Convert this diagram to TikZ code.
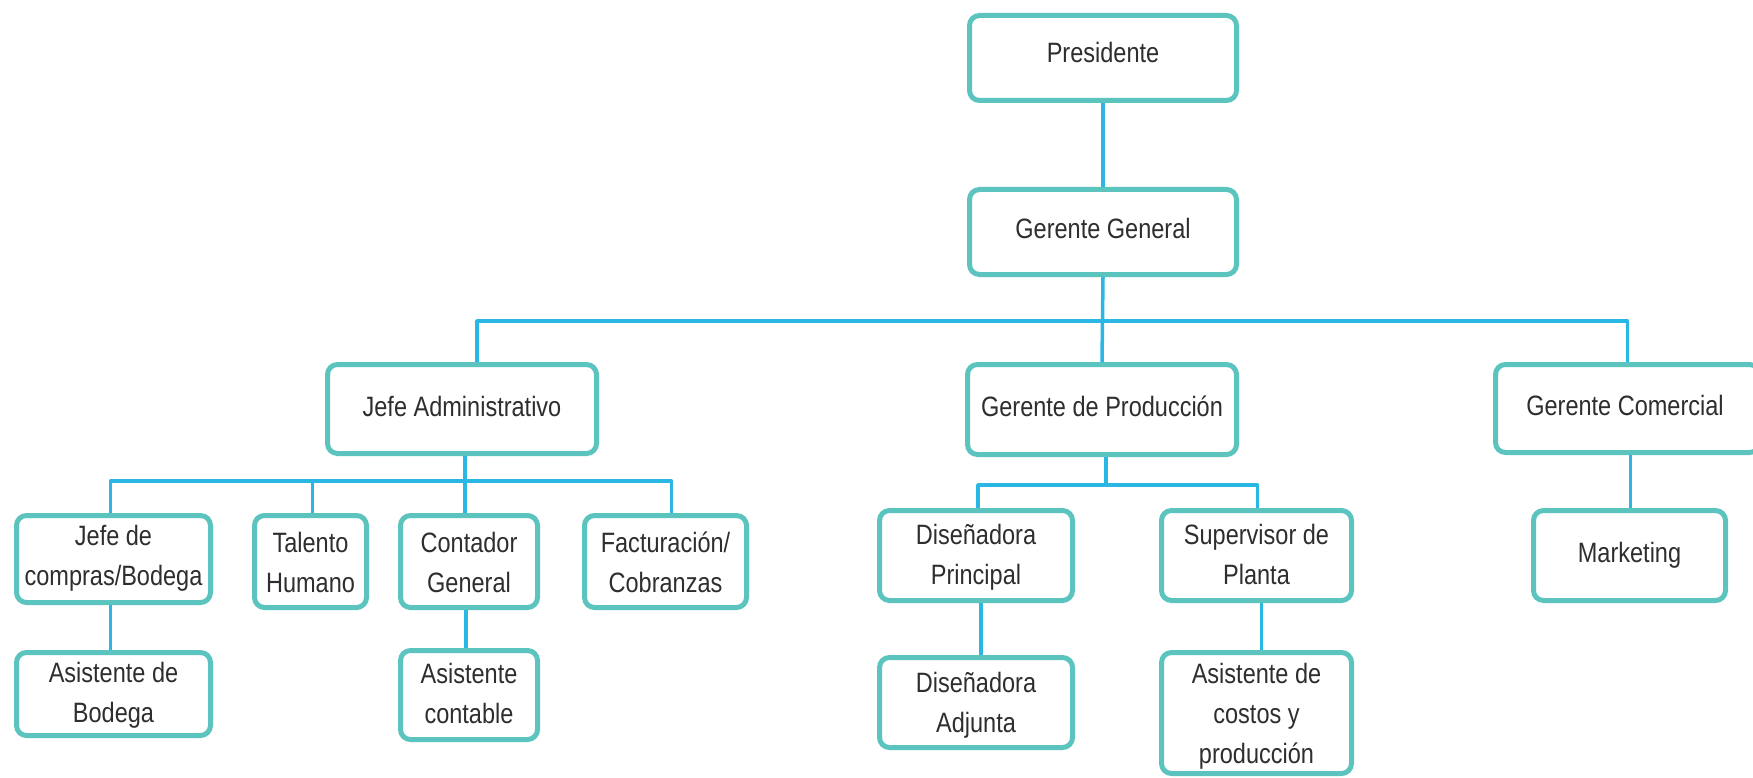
\documentclass[tikz,border=0pt]{standalone}
\usepackage{fontspec}
\setmainfont{Liberation Sans}[FakeStretch=0.84]
\definecolor{boxc}{HTML}{5BC4BF}
\definecolor{linec}{HTML}{2BB7E4}
\definecolor{txtc}{HTML}{2E2E2E}
\newcommand\ls{\rule[-8pt]{0pt}{34pt}}
\tikzset{
  box/.style={draw=boxc, line width=5pt, rounded corners=10pt, fill=white, inner sep=0pt},
  conn/.style={draw=linec, line width=3.5pt, line join=round},
  txt/.style={text=txtc, align=center, inner sep=0pt, font=\fontsize{28}{40}\selectfont},
}
\newcommand\bx[5]{\node[box, minimum width={#4-#2-5}, minimum height={#5-#3-5}] (#1) at ({(#2+#4)/2},{(#3+#5)/2}) {};}
\begin{document}
\begin{tikzpicture}[x=1pt,y=-1pt]
\useasboundingbox (0,0) rectangle (1753,778);
\fill[white] (0,0) rectangle (1753,778);
\coordinate (bus1) at (0,321);
\coordinate (bus2) at (0,481);
\coordinate (bus3) at (0,485);
% boxes
\bx{pres}{967}{13}{1239}{103}
\bx{gg}{967}{187}{1239}{277}
\bx{ja}{325}{362}{599}{456}
\bx{gp}{965}{362}{1239}{457}
\bx{gc}{1493}{362}{1762}{455}
\bx{jcb}{14}{513}{213}{605}
\bx{th}{252}{513}{369}{610}
\bx{cg}{398}{513}{540}{610}
\bx{fc}{582}{513}{749}{610}
\bx{ab}{14}{650}{213}{738}
\bx{ac}{398}{648}{540}{742}
\bx{dp}{877}{508}{1075}{603}
\bx{sp}{1159}{508}{1354}{603}
\bx{da}{877}{655}{1075}{750}
\bx{acp}{1159}{650}{1354}{776}
\bx{mk}{1531}{508}{1728}{603}
% connectors
\draw[conn] (pres.south) -- (gg.north);
\draw[conn] (gg.south) -- (gp.north);
\draw[conn] ([xshift=15]ja.north) |- (gc.north |- bus1) -- (gc.north);
\draw[conn] ([xshift=3]ja.south) -- ([xshift=3]ja.south |- cg.north);
\draw[conn] ([xshift=-3]jcb.north) |- ([xshift=6]fc.north |- bus2) -- ([xshift=6]fc.north);
\draw[conn] ([xshift=2]th.north) -- ([xshift=2]th.north |- bus2);
\draw[conn] ([xshift=-3]jcb.south) -- ([xshift=-3]ab.north);
\draw[conn] ([xshift=-3]cg.south) -- ([xshift=-3]ac.north);
\draw[conn] ([xshift=4]gp.south) -- ([xshift=4]gp.south |- bus3);
\draw[conn] ([xshift=2]dp.north) |- ([xshift=1]sp.north |- bus3) -- ([xshift=1]sp.north);
\draw[conn] ([xshift=5]dp.south) -- ([xshift=5]da.north);
\draw[conn] ([xshift=5]sp.south) -- ([xshift=5]acp.north);
\draw[conn] ([xshift=3]gc.south) -- ([xshift=3]gc.south |- mk.north);
% texts
\node[txt] (tpres) at (1103,54) {\ls Presidente};
\node[txt] (tgg) at (1103,229) {\ls Gerente General};
\node[txt] (tja) at (462,407) {\ls Jefe Administrativo};
\node[txt] (tgp) at (1102,407) {\ls Gerente de Producción};
\node[txt] (tgc) at (1625,406) {\ls Gerente Comercial};
\node[txt] (tjcb) at (113.5,556) {\ls Jefe de\\\ls compras/Bodega};
\node[txt] (tth) at (310.5,563) {\ls Talento\\\ls Humano};
\node[txt] (tcg) at (469,563) {\ls Contador\\\ls General};
\node[txt] (tfc) at (665.5,563) {\ls Facturación/\\\ls Cobranzas};
\node[txt] (tab) at (113.5,693) {\ls Asistente de\\\ls Bodega};
\node[txt] (tac) at (469,694) {\ls Asistente\\\ls contable};
\node[txt] (tdp) at (976,555) {\ls Diseñadora\\\ls Principal};
\node[txt] (tsp) at (1256.5,555) {\ls Supervisor de\\\ls Planta};
\node[txt] (tda) at (976,703) {\ls Diseñadora\\\ls Adjunta};
\node[txt] (tacp) at (1256.5,714) {\ls Asistente de\\\ls costos y\\\ls producción};
\node[txt] (tmk) at (1629.5,553) {\ls Marketing};
\end{tikzpicture}
\end{document}
